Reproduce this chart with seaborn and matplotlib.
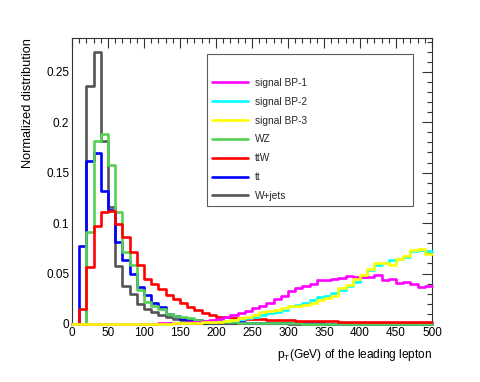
import numpy as np
import pandas as pd
import matplotlib
matplotlib.use("Agg")
import matplotlib.pyplot as plt
from matplotlib.lines import Line2D
from matplotlib.ticker import MultipleLocator, FuncFormatter
import seaborn as sns

# bin edges in GeV (10 GeV bins from 0 to 500)
edges = np.arange(0, 510, 10)
centers = edges[:-1] + 5

# normalized distributions, one value per bin
wjets = [0, 0, 0.236, 0.270, 0.181, 0.116, 0.057, 0.038, 0.030, 0.020,
         0.015, 0.012, 0.009, 0.007, 0.005, 0.004, 0.003, 0.002, 0.002, 0.001,
         0.001, 0.001, 0.001, 0.001, 0.0005, 0.0005, 0.0005, 0.0005, 0.0005, 0.0005,
         0, 0, 0, 0, 0, 0, 0, 0, 0, 0,
         0, 0, 0, 0, 0, 0, 0, 0, 0, 0]
tt = [0, 0.077, 0.162, 0.169, 0.132, 0.113, 0.081, 0.063, 0.050, 0.037,
      0.029, 0.021, 0.017, 0.010, 0.008, 0.005, 0.005, 0.004, 0.003, 0.003,
      0.002, 0.002, 0.0015, 0.0015, 0.001, 0.001, 0.001, 0.001, 0.0008, 0.0008,
      0.0006, 0.0006, 0.0005, 0.0005, 0.0005, 0.0004, 0.0004, 0.0004, 0.0003, 0.0003,
      0.0003, 0.0003, 0.0002, 0.0002, 0.0002, 0.0002, 0.0002, 0.0002, 0.0002, 0.0002]
wz = [0, 0, 0.091, 0.181, 0.188, 0.158, 0.111, 0.071, 0.058, 0.034,
      0.022, 0.018, 0.015, 0.010, 0.008, 0.007, 0.006, 0.004, 0.003, 0.002,
      0.002, 0.002, 0.0015, 0.001, 0.001, 0.001, 0.001, 0.0008, 0.0008, 0.0006,
      0.0005, 0.0005, 0.0004, 0.0004, 0.0003, 0.0003, 0.0003, 0.0002, 0.0002, 0.0002,
      0.0002, 0.0002, 0.0001, 0.0001, 0.0001, 0.0001, 0.0001, 0.0001, 0.0001, 0.0001]
ttw = [0, 0.015, 0.056, 0.097, 0.111, 0.112, 0.099, 0.086, 0.071, 0.058,
       0.045, 0.040, 0.035, 0.029, 0.025, 0.021, 0.017, 0.014, 0.011, 0.009,
       0.007, 0.007, 0.006, 0.006, 0.005, 0.005, 0.0045, 0.004, 0.004, 0.0035,
       0.0035, 0.003, 0.003, 0.003, 0.0028, 0.0026, 0.0025, 0.0024, 0.0023, 0.0022,
       0.0021, 0.002, 0.002, 0.002, 0.0019, 0.0018, 0.0018, 0.0017, 0.0017, 0.0016]
bp1 = [0, 0, 0, 0, 0, 0, 0, 0, 0.0002, 0.0002,
       0.0003, 0.0004, 0.0005, 0.0006, 0.0008, 0.001, 0.0015, 0.002, 0.003, 0.004,
       0.005, 0.0066, 0.009, 0.011, 0.013, 0.016, 0.018, 0.021, 0.025, 0.028,
       0.033, 0.036, 0.038, 0.040, 0.044, 0.044, 0.045, 0.046, 0.048, 0.047,
       0.047, 0.047, 0.049, 0.044, 0.045, 0.041, 0.042, 0.040, 0.037, 0.038]
bp2 = [0, 0, 0, 0, 0, 0, 0, 0, 0, 0,
       0.0002, 0.0003, 0.0004, 0.0005, 0.0006, 0.0008, 0.001, 0.0015, 0.002, 0.002,
       0.003, 0.003, 0.004, 0.005, 0.006, 0.007, 0.009, 0.011, 0.012, 0.014,
       0.018, 0.019, 0.021, 0.024, 0.027, 0.028, 0.031, 0.034, 0.038, 0.042,
       0.047, 0.053, 0.058, 0.060, 0.063, 0.064, 0.066, 0.072, 0.073, 0.072]
bp3 = [0, 0, 0, 0, 0, 0, 0, 0, 0, 0,
       0.0001, 0.0002, 0.0003, 0.0004, 0.0005, 0.0006, 0.0008, 0.001, 0.0015, 0.002,
       0.002, 0.003, 0.004, 0.006, 0.007, 0.009, 0.012, 0.013, 0.014, 0.016,
       0.018, 0.018, 0.019, 0.021, 0.024, 0.026, 0.028, 0.036, 0.039, 0.045,
       0.049, 0.054, 0.060, 0.060, 0.058, 0.064, 0.067, 0.073, 0.074, 0.069]

labels = ["signal BP-1", "signal BP-2", "signal BP-3", "WZ", "ttW", "tt", "W+jets"]
series = [bp1, bp2, bp3, wz, ttw, tt, wjets]
colors = ["#ff00ff", "#00ffff", "#ffff00", "#55d155", "#ff0000", "#0000ff", "#555555"]
# drawing order (bottom -> top)
draw_order = [6, 5, 3, 4, 1, 0, 2]

sns.set_theme(style="white")
plt.rcParams['font.family'] = ['Liberation Sans', 'DejaVu Sans']
plt.rcParams['mathtext.default'] = 'regular'

fig = plt.figure(figsize=(4.8, 3.82), dpi=100)
ax = fig.add_axes([0.15, 0.152, 0.75, 0.749])

for i in draw_order:
    df = pd.DataFrame({"pt": centers, "w": np.asarray(series[i], dtype=float)})
    sns.histplot(data=df, x="pt", weights="w", binwidth=10, binrange=(0, 500),
                 element="step", fill=False, color=colors[i], linewidth=1.9,
                 clip_on=False, zorder=3, ax=ax)

ax.set_xlim(0, 500)
ax.set_ylim(0, 0.2837)

# ROOT-like ticks: inward, on every side
ax.xaxis.set_major_locator(MultipleLocator(50))
ax.xaxis.set_minor_locator(MultipleLocator(10))
ax.yaxis.set_major_locator(MultipleLocator(0.05))
ax.yaxis.set_minor_locator(MultipleLocator(0.01))
ax.yaxis.set_major_formatter(FuncFormatter(lambda v, p: "%g" % round(v, 3)))
ax.tick_params(which="both", direction="in", top=True, right=True,
               color="#333333", width=0.8, labelsize=8.5, labelcolor="black")
ax.tick_params(which="major", length=7.2, pad=2)
ax.tick_params(which="minor", length=3.6)
for s in ax.spines.values():
    s.set_color("#333333")
    s.set_linewidth(0.8)

ax.set_xlabel("p$_T$(GeV) of the leading lepton", loc="right", fontsize=8.6,
              labelpad=6, color="black")
ax.set_ylabel("Normalized distribution", loc="top", fontsize=9.2,
              labelpad=9, color="black")

handles = [Line2D([], [], color="none")]
names = [" "]
for lab, c in zip(labels, colors):
    handles.append(Line2D([], [], color=c, linewidth=1.9))
    names.append(lab)
leg = ax.legend(handles, names, loc="upper left",
                bbox_to_anchor=(0.374, 0.410, 0.574, 0.533), mode="expand",
                fontsize=7.3, frameon=True, fancybox=False, handlelength=3.6,
                handletextpad=0.7, labelspacing=0.87, borderpad=0.5,
                borderaxespad=0)
leg.get_frame().set_edgecolor("#333333")
leg.get_frame().set_linewidth(0.8)
leg.set_zorder(5)

fig.savefig("out.png", dpi=100)
